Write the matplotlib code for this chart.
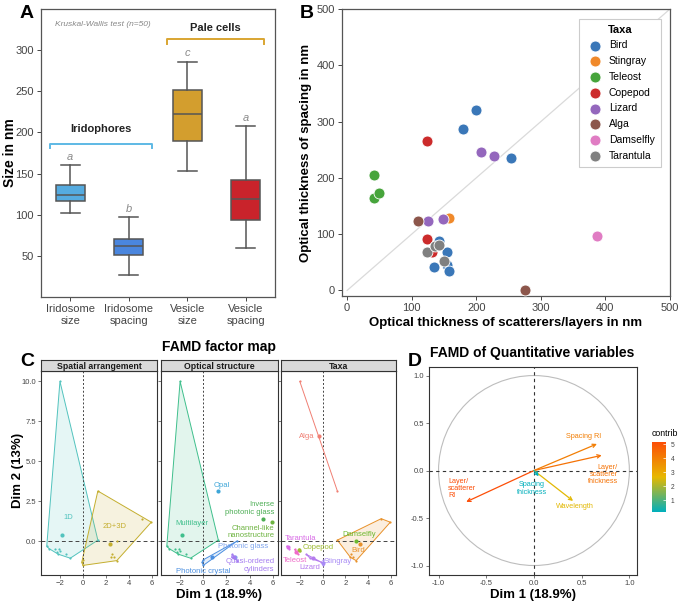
import numpy as np
import matplotlib.pyplot as plt
from matplotlib.colors import LinearSegmentedColormap, Normalize
from matplotlib.cm import ScalarMappable
from matplotlib.patches import Circle, Polygon

plt.rcParams['font.family'] = ['Liberation Sans', 'DejaVu Sans']

# ---------------- panel A: box summaries (nm)
box_labels = ["Iridosome\nsize", "Iridosome\nspacing", "Vesicle\nsize", "Vesicle\nspacing"]
box_lo = [102, 27, 153, 59]
box_q1 = [117, 51, 190, 94]
box_med = [124, 62, 222, 119]
box_q3 = [136, 70, 252, 142]
box_hi = [160, 97, 286, 208]
box_colors = ["#55ABE0", "#4A86DE", "#D39E2E", "#C9232B"]
box_letters = ["a", "b", "c", "a"]

# ---------------- panel B: optical thickness scatter
taxa = ["Bird", "Stingray", "Teleost", "Copepod", "Lizard", "Alga", "Damselfly", "Tarantula"]
taxa_colors = ["#3A77B8", "#F0892A", "#46A43B", "#CC2B2B", "#9467BD", "#8C564B", "#E07CC3", "#808080"]
scat_taxon = ["Bird"] * 8 + ["Stingray"] + ["Teleost"] * 3 + ["Copepod"] * 3 + ["Lizard"] * 4 \
    + ["Alga"] * 2 + ["Damselfly"] + ["Tarantula"] * 4
scat_x = [200, 180, 254, 143, 154, 134, 154, 158,
          157,
          41, 41, 50,
          123, 123, 131,
          208, 227, 125, 148,
          109, 276,
          387,
          124, 136, 142, 150]
scat_y = [321, 286, 236, 88, 69, 42, 45, 35,
          129,
          205, 165, 173,
          265, 92, 68,
          246, 238, 123, 126,
          123, 0,
          96,
          68, 79, 81, 53]

# ---------------- panel C: FAMD individuals
ind_x = [-2.0, 1.3, 1.3, 5.15, 5.95, 2.45, 2.95, 2.5, 2.7, 2.95,
         -2.1, -2.0, -1.45, -1.1, -0.1, 0.0, 0.0, -3.15, -2.95,
         -2.45, -2.3, -2.15]
ind_y = [10.0, 3.15, 0.08, 1.42, 1.2, -1.0, -1.2, -0.8, -0.95, 0.04,
         -0.5, -0.6, -0.8, -1.05, -1.3, -1.15, -1.5, -0.3, -0.45,
         -0.5, -0.65, -0.8]
ind_taxa = ["Alga", "Alga", "Bird", "Bird", "Bird", "Bird", "Bird", "Bird", "Bird", "Damselfly",
            "Copepod", "Copepod", "Lizard", "Lizard", "Lizard", "Stingray", "Stingray",
            "Tarantula", "Tarantula", "Teleost", "Teleost", "Teleost"]
ind_arrangement = ["1D", "2D+3D", "1D", "2D+3D", "2D+3D", "2D+3D", "2D+3D", "2D+3D", "2D+3D", "2D+3D",
                   "1D", "1D", "1D", "1D", "2D+3D", "2D+3D", "2D+3D",
                   "1D", "1D", "1D", "1D", "1D"]
ind_structure = ["Multilayer", "Opal", "Multilayer", "Inverse photonic glass", "Channel-like nanostructure",
                 "Quasi-ordered cylinders", "Quasi-ordered cylinders", "Quasi-ordered cylinders",
                 "Photonic glass", "Photonic crystal",
                 "Multilayer", "Multilayer", "Multilayer", "Multilayer", "Photonic crystal",
                 "Photonic crystal", "Photonic crystal",
                 "Multilayer", "Multilayer", "Multilayer", "Multilayer", "Multilayer"]

arr_groups = ["1D", "2D+3D"]
arr_colors = ["#52C3BE", "#C4AE2E"]
arr_text = ["1D", "2D+3D"]
arr_lx = [-1.25, 2.75]
arr_ly = [1.5, 0.95]

str_groups = ["Multilayer", "Opal", "Inverse photonic glass", "Channel-like nanostructure",
              "Photonic glass", "Photonic crystal", "Quasi-ordered cylinders"]
str_colors = ["#3FBF8C", "#3EA6D8", "#4DAE55", "#6DB340", "#80A6EE", "#4B8FE0", "#A47CF0"]
str_text = ["Multilayer", "Opal", "Inverse\nphotonic glass", "Channel-like\nnanostructure",
            "Photonic glass", "Photonic crystal", "Quasi-ordered\ncylinders"]
str_lx = [-1.0, 1.6, 6.15, 6.15, 1.3, 0.0, 6.15]
str_ly = [1.1, 3.5, 2.06, 0.6, -0.3, -1.86, -1.5]
str_ha = ["center", "center", "right", "right", "left", "center", "right"]

tax_groups = ["Alga", "Bird", "Copepod", "Damselfly", "Lizard", "Stingray", "Tarantula", "Teleost"]
tax_colors = ["#F07F73", "#E8912A", "#9DBB2F", "#6CB82E", "#B57CEE", "#A88BF5", "#D86BE6", "#EE6AC8"]
tax_text = tax_groups
tax_lx = [-1.4, 3.1, -0.35, 3.2, -1.1, 1.35, -1.97, -2.4]
tax_ly = [6.54, -0.6, -0.4, 0.4, -1.65, -1.23, 0.19, -1.2]

# ---------------- panel D: quantitative variables
var_x = [0.66, 0.71, -0.71, 0.41, 0.05]
var_y = [0.28, 0.16, -0.33, -0.32, -0.06]
var_contrib = [4.0, 4.3, 5.15, 2.6, 0.15]
var_text = ["Spacing RI", "Layer/\nscatterer\nthickness", "Layer/\nscatterer\nRI", "Wavelength", "Spacing\nthickness"]
var_lx = [0.52, 0.72, -0.9, 0.43, -0.02]
var_ly = [0.36, -0.04, -0.19, -0.38, -0.19]
var_ha = ["center", "center", "left", "center", "center"]
var_align = ["center", "right", "left", "center", "center"]

W, H = 681, 606
fig = plt.figure(figsize=(W / 100, H / 100), dpi=100)


def box(l, t, r, b):
    return [l / W, 1 - b / H, (r - l) / W, (b - t) / H]


def style(ax, col="#555555", size=8):
    for s in ax.spines.values():
        s.set_color(col)
        s.set_linewidth(0.9)
    ax.tick_params(colors="#444444", labelsize=size, length=3, width=0.7, pad=2)


# ================= A
axA = fig.add_axes(box(41, 9, 275, 297))
stats = []
for i in range(4):
    stats.append(dict(whislo=box_lo[i], q1=box_q1[i], med=box_med[i], q3=box_q3[i], whishi=box_hi[i], fliers=[]))
bp = axA.bxp(stats, positions=[1, 2, 3, 4], widths=0.5, capwidths=0.33, patch_artist=True,
             boxprops=dict(edgecolor="#555555", linewidth=1.1),
             medianprops=dict(color="#555555", linewidth=1.1),
             whiskerprops=dict(color="#555555", linewidth=1.1),
             capprops=dict(color="#555555", linewidth=1.1))
for p, c in zip(bp["boxes"], box_colors):
    p.set_facecolor(c)
for i in range(4):
    axA.text(i + 1, box_hi[i] + 10, box_letters[i], ha="center", va="center", style="italic",
             color="#8A8A8A", fontsize=8)
axA.set_xlim(0.5, 4.5)
axA.set_ylim(0, 350)
axA.set_yticks([50, 100, 150, 200, 250, 300])
axA.set_xticks([1, 2, 3, 4])
axA.set_xticklabels(box_labels, fontsize=8, linespacing=1.3)
style(axA)
fig.text(10 / W, 1 - 153 / H, "Size in nm", ha="center", va="center", rotation=90, fontsize=10,
         fontweight="bold")
# group brackets
axA.plot([0.66, 0.66, 2.39, 2.39], [181, 186, 186, 181], color="#5DB9E5", lw=1.4, clip_on=False)
axA.text(1.52, 204, "Iridophores", ha="center", va="center", fontsize=8, fontweight="bold", color="#222222")
axA.plot([2.66, 2.66, 4.31, 4.31], [308, 313, 313, 308], color="#D9A531", lw=1.4, clip_on=False)
axA.text(3.48, 327, "Pale cells", ha="center", va="center", fontsize=8, fontweight="bold", color="#222222")
axA.text(0.74, 331, "Kruskal-Wallis test (n=50)", ha="left", va="center", fontsize=6, style="italic",
         color="#888888")

# ================= B
axB = fig.add_axes(box(342, 9, 670, 296))
axB.plot([0, 500], [0, 500], color="#DADADA", lw=0.9, zorder=0)
scat_taxon_arr = np.array(scat_taxon)
for t, c in zip(taxa, taxa_colors):
    m = scat_taxon_arr == t
    axB.scatter(np.array(scat_x)[m], np.array(scat_y)[m], s=62, color=c, edgecolor="white",
                linewidth=0.6, label=t, zorder=3)
axB.set_xlim(-8, 500)
axB.set_ylim(-10, 500)
axB.set_xticks([0, 100, 200, 300, 400, 500])
axB.set_yticks([0, 100, 200, 300, 400, 500])
axB.set_xlabel("Optical thickness of scatterers/layers in nm", fontsize=9.5, fontweight="bold", labelpad=3)
axB.set_ylabel("Optical thickness of spacing in nm", fontsize=9.5, fontweight="bold", labelpad=3)
style(axB)
leg = axB.legend(title="Taxa", loc="upper right", fontsize=7.5, title_fontproperties=dict(weight="bold", size=8),
                 frameon=True, fancybox=False, edgecolor="#CCCCCC", framealpha=1, labelspacing=0.55,
                 handletextpad=0.3, borderpad=0.6, bbox_to_anchor=(0.988, 0.985))
leg.get_frame().set_linewidth(0.8)
leg.set_zorder(5)


# ================= C
def hull(pts):
    pts = sorted(set(pts))
    if len(pts) < 3:
        return pts

    def cross(o, a, b):
        return (a[0] - o[0]) * (b[1] - o[1]) - (a[1] - o[1]) * (b[0] - o[0])
    lower, upper = [], []
    for p in pts:
        while len(lower) >= 2 and cross(lower[-2], lower[-1], p) <= 0:
            lower.pop()
        lower.append(p)
    for p in reversed(pts):
        while len(upper) >= 2 and cross(upper[-2], upper[-1], p) <= 0:
            upper.pop()
        upper.append(p)
    return lower[:-1] + upper[:-1]


def facet(ax, cats, groups, colors, texts, lx, ly, ha):
    cats = np.array(cats)
    xs, ys = np.array(ind_x), np.array(ind_y)
    for k, (g, c) in enumerate(zip(groups, colors)):
        m = cats == g
        pts = list(zip(xs[m], ys[m]))
        hp = hull(pts)
        if len(hp) >= 3:
            ax.add_patch(Polygon(hp, closed=True, facecolor=c, alpha=0.15, edgecolor="none"))
            ax.add_patch(Polygon(hp, closed=True, facecolor="none", edgecolor=c, lw=0.7))
        elif len(hp) == 2:
            ax.plot([hp[0][0], hp[1][0]], [hp[0][1], hp[1][1]], color=c, lw=0.7)
        ax.scatter(xs[m], ys[m], s=2.5, color=c, zorder=3, linewidth=0)
        ax.scatter([xs[m].mean()], [ys[m].mean()], s=9, color=c, zorder=4, linewidth=0)
        ax.text(lx[k], ly[k], texts[k], color=c, fontsize=5.5, ha=ha[k], va="center", linespacing=1.1, zorder=5)
    ax.axvline(0, color="#444444", lw=0.7, ls=(0, (2, 2)), zorder=1)
    ax.axhline(0, color="#444444", lw=0.7, ls=(0, (4, 3)), zorder=1)
    ax.set_xlim(-3.65, 6.45)
    ax.set_ylim(-2.1, 10.65)
    ax.set_xticks([-2, 0, 2, 4, 6])
    ax.set_yticks([0, 2.5, 5, 7.5, 10])
    ax.set_yticklabels(["0.0", "2.5", "5.0", "7.5", "10.0"])
    for s in ax.spines.values():
        s.set_color("#333333")
        s.set_linewidth(0.8)
    ax.tick_params(colors="#444444", labelsize=5.5, length=2, width=0.5, pad=1.5)


facet_px = [(41, 157), (161, 278), (281, 396)]
facet_titles = ["Spatial arrangement", "Optical structure", "Taxa"]
axC = []
for (l, r), tl in zip(facet_px, facet_titles):
    ax = fig.add_axes(box(l, 371, r, 575))
    st = fig.add_axes(box(l, 360, r, 371))
    st.set_facecolor("#D9D9D9")
    st.set_xticks([])
    st.set_yticks([])
    for s in st.spines.values():
        s.set_color("#333333")
        s.set_linewidth(0.8)
    st.text(0.5, 0.45, tl, ha="center", va="center", fontsize=6.3, fontweight="bold", color="#1A1A1A")
    axC.append(ax)

facet(axC[0], ind_arrangement, arr_groups, arr_colors, arr_text, arr_lx, arr_ly, ["center"] * 2)
facet(axC[1], ind_structure, str_groups, str_colors, str_text, str_lx, str_ly, str_ha)
facet(axC[2], ind_taxa, tax_groups, tax_colors, tax_text, tax_lx, tax_ly, ["center"] * 8)
axC[1].tick_params(labelleft=False)
axC[2].tick_params(labelleft=False)
fig.text(219 / W, 1 - 347 / H, "FAMD factor map", ha="center", va="center", fontsize=10, fontweight="bold")
fig.text(219 / W, 1 - 595 / H, "Dim 1 (18.9%)", ha="center", va="center", fontsize=9.5, fontweight="bold")
fig.text(18 / W, 1 - 470 / H, "Dim 2 (13%)", ha="center", va="center", fontsize=9.5, fontweight="bold",
         rotation=90)

# ================= D
cmap = LinearSegmentedColormap.from_list("contrib", ["#00AFBB", "#E7B800", "#FC4E07"])
norm = Normalize(vmin=min(var_contrib), vmax=max(var_contrib))
axD = fig.add_axes(box(429, 367, 637, 575))
axD.add_patch(Circle((0, 0), 1, fill=False, edgecolor="#BDBDBD", lw=0.8))
axD.axvline(0, color="#333333", lw=0.8, ls=(0, (3, 3)))
axD.axhline(0, color="#333333", lw=0.8, ls=(0, (3, 3)))
for k in range(len(var_x)):
    c = cmap(norm(var_contrib[k]))
    axD.annotate("", xy=(var_x[k], var_y[k]), xytext=(0, 0),
                 arrowprops=dict(arrowstyle="->", color=c, lw=0.9, shrinkA=0, shrinkB=0, mutation_scale=6))
    axD.text(var_lx[k], var_ly[k], var_text[k], color=c, fontsize=5.2, ha=var_ha[k], va="center",
             linespacing=1.05, multialignment=var_align[k])
axD.set_xlim(-1.1, 1.08)
axD.set_ylim(-1.1, 1.09)
axD.set_xticks([-1.0, -0.5, 0.0, 0.5, 1.0])
axD.set_yticks([-1.0, -0.5, 0.0, 0.5, 1.0])
axD.set_xticklabels(["-1.0", "-0.5", "0.0", "0.5", "1.0"])
axD.set_yticklabels(["-1.0", "-0.5", "0.0", "0.5", "1.0"])
for s in axD.spines.values():
    s.set_color("#333333")
    s.set_linewidth(0.8)
axD.tick_params(colors="#444444", labelsize=5.5, length=2, width=0.5, pad=1.5)
fig.text(532 / W, 1 - 353 / H, "FAMD of Quantitative variables", ha="center", va="center", fontsize=10,
         fontweight="bold")
fig.text(533 / W, 1 - 595 / H, "Dim 1 (18.9%)", ha="center", va="center", fontsize=9.5, fontweight="bold")

cax = fig.add_axes(box(652, 442, 666, 512))
cb = fig.colorbar(ScalarMappable(norm=norm, cmap=cmap), cax=cax, ticks=[1, 2, 3, 4, 5])
cb.outline.set_visible(False)
cax.tick_params(labelsize=4.8, length=2, width=0.5, colors="white", labelcolor="#444444", direction="in")
fig.text(652 / W, 1 - 433 / H, "contrib", ha="left", va="center", fontsize=6.3)

# panel letters
for lab, x, y in [("A", 27, 14), ("B", 307, 14), ("C", 27, 362), ("D", 415, 362)]:
    fig.text(x / W, 1 - y / H, lab, ha="center", va="center", fontsize=14, fontweight="bold")

fig.savefig("out.png", dpi=100)
